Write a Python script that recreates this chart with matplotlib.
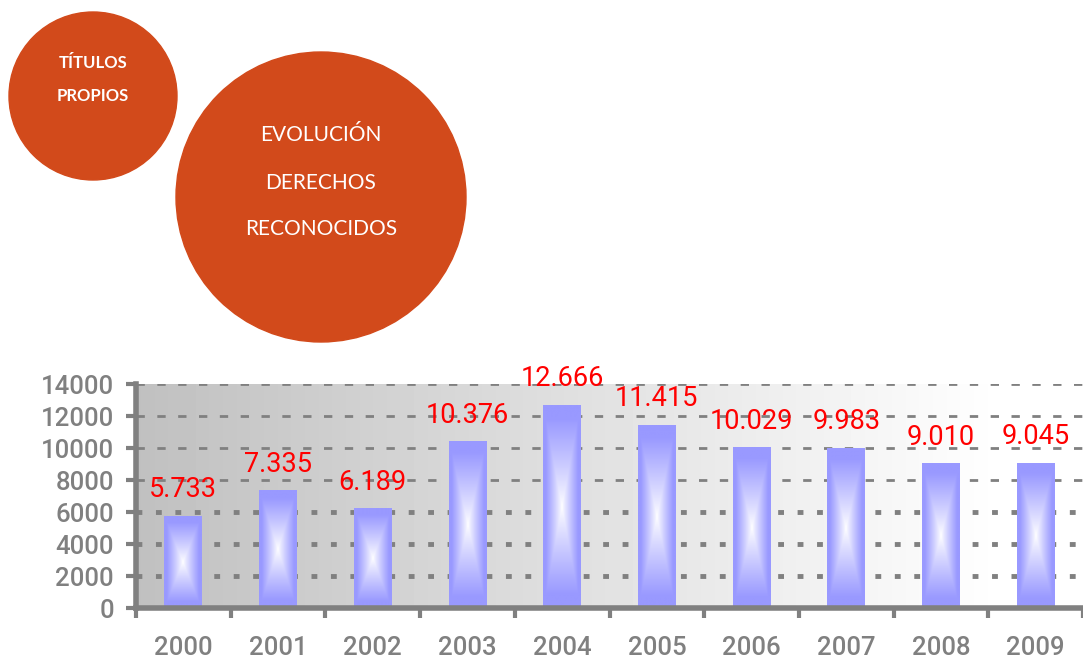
import matplotlib
matplotlib.use('Agg')
import matplotlib.pyplot as plt
import numpy as np
from matplotlib.patches import Circle

# datos
anios = ['2000', '2001', '2002', '2003', '2004', '2005', '2006', '2007', '2008', '2009']
derechos = [5733, 7335, 6189, 10376, 12666, 11415, 10029, 9983, 9010, 9045]
etiquetas = ['5.733', '7.335', '6.189', '10.376', '12.666', '11.415', '10.029', '9.983', '9.010', '9.045']
yticks = [0, 2000, 4000, 6000, 8000, 10000, 12000, 14000]

gris = '#808080'
naranja = '#d24a1b'
azul = np.array([0x99, 0x99, 0xff]) / 255.0

fig = plt.figure(figsize=(10.83, 6.59), dpi=100)

# fondo con los circulos (coordenadas en pixeles)
bg = fig.add_axes([0, 0, 1, 1])
bg.set_xlim(0, 1083)
bg.set_ylim(659, 0)
bg.axis('off')
bg.add_patch(Circle((93, 96), 84, color=naranja, zorder=1))
bg.add_patch(Circle((321, 197), 145, color=naranja, zorder=1))
bg.text(93, 63, 'TÍTULOS', color='white', fontsize=12, fontweight='bold', family='Lato', ha='center', va='center')
bg.text(93, 96, 'PROPIOS', color='white', fontsize=12, fontweight='bold', family='Lato', ha='center', va='center')
for txt, yy in zip(['EVOLUCIÓN', 'DERECHOS', 'RECONOCIDOS'], [135, 183, 229]):
    bg.text(321, yy, txt, color='white', fontsize=15, fontweight='normal', family='Lato', ha='center', va='center')

ax = fig.add_axes([136 / 1083, 51 / 659, 947 / 1083, 224 / 659])
x = np.arange(len(anios))
ax.set_xlim(-0.5, len(anios) - 0.5)
ax.set_ylim(0, 14000)

# degradado gris del area de trazado
grad = np.linspace(0xc0 / 255.0, 1.0, 256)
ax.imshow(np.tile(grad, (2, 1)), cmap='gray', vmin=0, vmax=1, aspect='auto',
          extent=[-0.5, 8.65, 0, 14000], zorder=0, interpolation='bicubic')

# lineas de cuadricula
for yv in yticks[1:]:
    if yv <= 6000:
        ax.axhline(yv, color=gris, lw=3.5, dashes=(1.2, 2.8), zorder=1)
    else:
        ax.axhline(yv, color=gris, lw=2, dashes=(3, 4.5), zorder=1)

# barras con degradado desde el centro
ancho = 0.4
ny, nx = 200, 40
u = np.abs(np.linspace(-1, 1, nx))[None, :]
v = np.abs(np.linspace(-1, 1, ny))[:, None]
t = np.maximum(u, v)
t = np.clip(t * 1.15, 0, 1) ** 0.9
img = 1 - (1 - azul)[None, None, :] * t[:, :, None]
barras = ax.bar(x, derechos, width=ancho, color='none', zorder=2)
for b in barras:
    x0, w, h = b.get_x(), b.get_width(), b.get_height()
    ax.imshow(img, extent=[x0, x0 + w, 0, h], aspect='auto', zorder=2, interpolation='bilinear')
ax.set_xlim(-0.5, len(anios) - 0.5)
ax.set_ylim(0, 14000)

for xi, val, lab in zip(x, derechos, etiquetas):
    ax.annotate(lab, (xi, val), xytext=(0, 19), textcoords='offset points', ha='center', va='center',
                color='red', fontsize=19.5, family='Roboto', zorder=5)

# ejes
for s in ['top', 'right']:
    ax.spines[s].set_visible(False)
for s in ['left', 'bottom']:
    ax.spines[s].set_color(gris)
    ax.spines[s].set_linewidth(4)
    ax.spines[s].set_zorder(4)
ax.set_yticks(yticks)
ax.set_yticklabels([str(v) for v in yticks])
ax.set_xticks(x)
ax.set_xticklabels(anios)
ax.set_xticks(np.arange(-0.5, len(anios), 1.0), minor=True)
ax.tick_params(axis='y', direction='out', length=7, width=3, color=gris, labelcolor=gris, labelsize=18.5, pad=9)
ax.tick_params(axis='x', which='major', length=0, labelcolor=gris, labelsize=18.5, pad=20)
ax.tick_params(axis='x', which='minor', direction='out', length=7, width=3, color=gris)
for lbl in ax.get_xticklabels() + ax.get_yticklabels():
    lbl.set_family('Roboto')
    lbl.set_fontweight('medium')

fig.savefig('out.png', dpi=100)
